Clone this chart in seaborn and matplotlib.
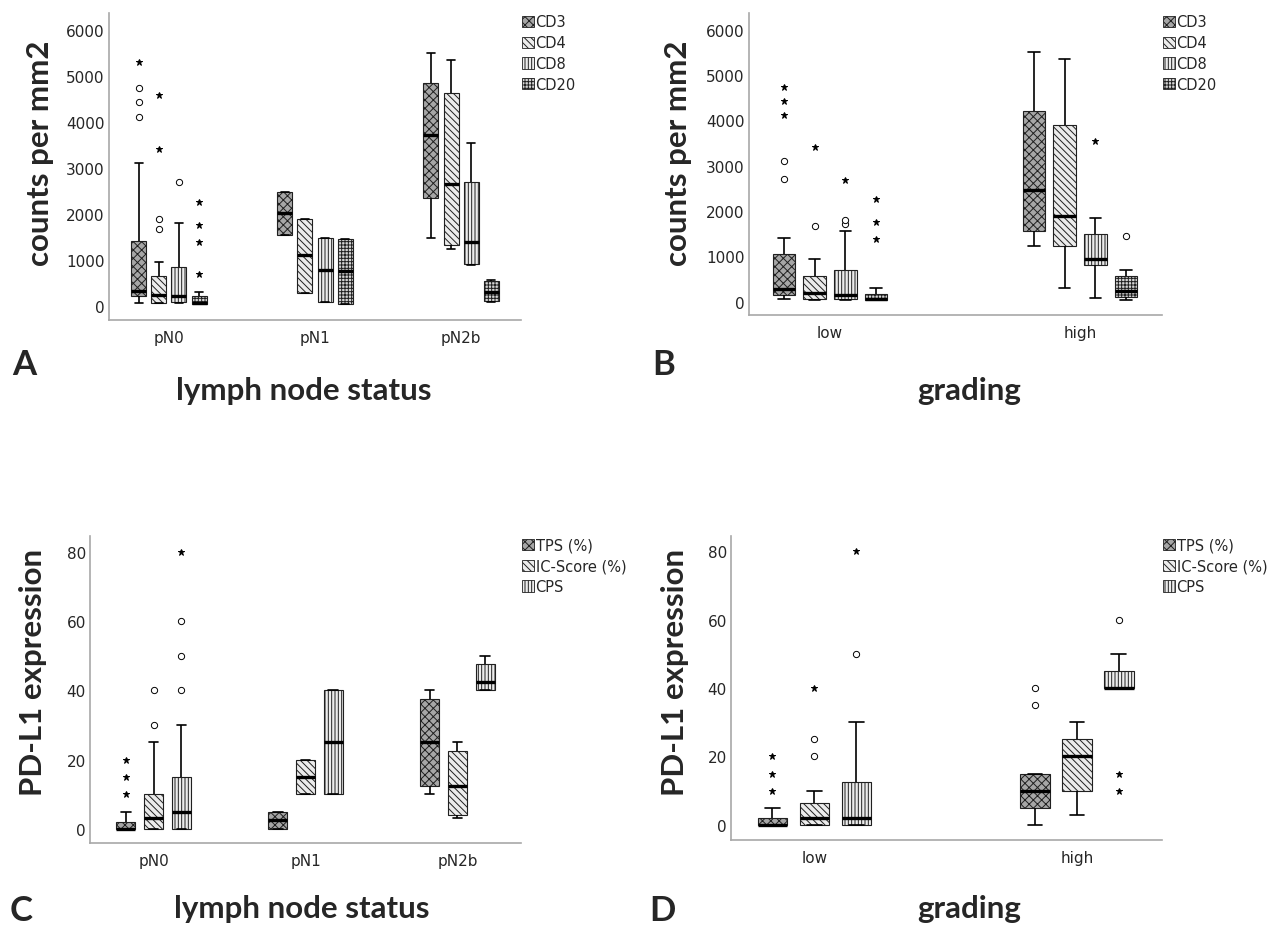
import matplotlib
matplotlib.use("Agg")
import matplotlib.pyplot as plt
from matplotlib.patches import Patch
import pandas as pd
import seaborn as sns

sns.set_style("white")
plt.rcParams["font.family"] = ["DejaVu Sans"]
plt.rcParams["hatch.linewidth"] = 0.7

nodes = ["pN0", "pN1", "pN2b"]
grades = ["low", "high"]
cells = ["CD3", "CD4", "CD8", "CD20"]
scores = ["TPS (%)", "IC-Score (%)", "CPS"]

# five-number summaries per group: lower whisker, Q1, median, Q3, upper whisker
# A: immune cells per mm2 by lymph node status
a_cd3 = [[72, 217, 325, 1403, 3116], [1547, 1547, 2025, 2480, 2480], [1475, 2350, 3717, 4845, 5503]]
a_cd4 = [[65, 72, 231, 651, 947], [289, 289, 1099, 1894, 1894], [1244, 1316, 2661, 4620, 5343]]
a_cd8 = [[65, 87, 224, 839, 1800], [80, 80, 788, 1489, 1489], [897, 904, 1388, 2690, 3543]]
a_cd20 = [[40, 45, 70, 215, 300], [43, 43, 752, 1453, 1453], [94, 101, 304, 535, 557]]
a_circles = [("pN0", "CD3", 4114), ("pN0", "CD3", 4425), ("pN0", "CD3", 4750),
             ("pN0", "CD4", 1677), ("pN0", "CD4", 1902), ("pN0", "CD8", 2690)]
a_stars = [("pN0", "CD3", 5307), ("pN0", "CD4", 3413), ("pN0", "CD4", 4591),
           ("pN0", "CD20", 701), ("pN0", "CD20", 1388), ("pN0", "CD20", 1757), ("pN0", "CD20", 2263)]

# B: immune cells per mm2 by grading
b_cd3 = [[59, 147, 279, 1044, 1404], [1221, 1551, 2471, 4199, 5500]]
b_cd4 = [[37, 59, 191, 559, 949], [294, 1235, 1890, 3904, 5353]]
b_cd8 = [[37, 59, 147, 706, 1551], [74, 816, 941, 1485, 1838]]
b_cd20 = [[29, 37, 59, 162, 294], [37, 110, 228, 559, 699]]
b_circles = [("low", "CD3", 2706), ("low", "CD3", 3110), ("low", "CD4", 1669),
             ("low", "CD8", 1713), ("low", "CD8", 1801), ("high", "CD20", 1441)]
b_stars = [("low", "CD3", 4110), ("low", "CD3", 4419), ("low", "CD3", 4743), ("low", "CD4", 3404),
           ("low", "CD8", 2684), ("low", "CD20", 1382), ("low", "CD20", 1750), ("low", "CD20", 2265),
           ("high", "CD8", 3544)]

# C: PD-L1 by lymph node status
c_tps = [[0, 0, 0, 2, 5], [0, 0, 2.5, 5, 5], [10, 12.5, 25, 37.5, 40]]
c_ic = [[0, 0, 3, 10, 25], [10, 10, 15, 20, 20], [3, 4, 12.5, 22.5, 25]]
c_cps = [[0, 0, 5, 15, 30], [10, 10, 25, 40, 40], [40, 40, 42.5, 47.5, 50]]
c_circles = [("pN0", "IC-Score (%)", 30), ("pN0", "IC-Score (%)", 40),
             ("pN0", "CPS", 40), ("pN0", "CPS", 50), ("pN0", "CPS", 60)]
c_stars = [("pN0", "TPS (%)", 10), ("pN0", "TPS (%)", 15), ("pN0", "TPS (%)", 20), ("pN0", "CPS", 80)]

# D: PD-L1 by grading
d_tps = [[0, 0, 0, 2, 5], [0, 5, 10, 15, 15]]
d_ic = [[0, 0, 2, 6.5, 10], [3, 10, 20, 25, 30]]
d_cps = [[0, 0, 2, 12.5, 30], [40, 40, 40, 45, 50]]
d_circles = [("low", "IC-Score (%)", 20), ("low", "IC-Score (%)", 25), ("low", "CPS", 50),
             ("high", "TPS (%)", 35), ("high", "TPS (%)", 40), ("high", "CPS", 60)]
d_stars = [("low", "TPS (%)", 10), ("low", "TPS (%)", 15), ("low", "TPS (%)", 20),
           ("low", "IC-Score (%)", 40), ("low", "CPS", 80), ("high", "CPS", 10), ("high", "CPS", 15)]

hatches = {"CD3": "xxxx", "CD4": "\\\\\\\\\\", "CD8": "|||||", "CD20": "+++++",
           "TPS (%)": "xxxx", "IC-Score (%)": "\\\\\\\\\\", "CPS": "|||||"}
faces = {"CD3": "#a6a6a6", "CD4": "#ececec", "CD8": "#ececec", "CD20": "#d4d4d4",
         "TPS (%)": "#a6a6a6", "IC-Score (%)": "#ececec", "CPS": "#ececec"}

W, H = 1277, 929
fig = plt.figure(figsize=(W / 100, H / 100), dpi=100)
label_font = ["Lato", "DejaVu Sans"]


def px_axes(x0, y0, x1, y1):
    return fig.add_axes([x0 / W, 1 - y1 / H, (x1 - x0) / W, (y1 - y0) / H])


def px_text(x, y, s, **kw):
    fig.text(x / W, 1 - y / H, s, **kw)


def draw_panel(ax, groups, hues, summaries, circles, stars, width, gap, xlim, ylim, yticks):
    rows = []
    for hue, summ in zip(hues, summaries):
        for g, five in zip(groups, summ):
            rows += [(g, hue, v) for v in five]
    df = pd.DataFrame(rows, columns=["group", "marker", "value"])

    for hue in hues:
        n0 = len(ax.patches)
        sns.boxplot(data=df[df["marker"] == hue], x="group", y="value", hue="marker",
                    order=groups, hue_order=hues, dodge=True, width=width, gap=gap,
                    whis=(0, 100), showfliers=False, palette=faces, linecolor="black",
                    linewidth=1.2, legend=False, ax=ax,
                    boxprops=dict(linewidth=0.8, edgecolor="#202020"),
                    medianprops=dict(linewidth=2.4, color="black"))
        for p in ax.patches[n0:]:
            p.set_hatch(hatches[hue])

    # outliers (circles) and extremes (stars), one rank at a time
    dodge = width * (len(hues) - 1) / len(hues)
    for pts, mk, ms, mfc in [(circles, "o", 4.5, "white"), (stars, "*", 4.5, "black")]:
        out = pd.DataFrame(pts, columns=["group", "marker", "value"])
        out["rank"] = out.groupby(["group", "marker"]).cumcount()
        for r in sorted(out["rank"].unique()):
            sns.pointplot(data=out[out["rank"] == r], x="group", y="value", hue="marker",
                          order=groups, hue_order=hues, dodge=dodge, linestyle="none",
                          markers=mk, errorbar=None, legend=False, ax=ax,
                          palette={h: "black" for h in hues}, markersize=ms,
                          markerfacecolor=mfc, markeredgewidth=0.7)

    ax.set_xlim(*xlim)
    ax.set_ylim(*ylim)
    ax.set_yticks(yticks)
    ax.set_xlabel("")
    ax.set_ylabel("")
    sns.despine(ax=ax)
    for s in ["left", "bottom"]:
        ax.spines[s].set_color("#a8a8a8")
        ax.spines[s].set_linewidth(1.2)
    ax.tick_params(length=0, labelsize=11, pad=3)
    ax.tick_params(axis="x", pad=7)

    handles = [Patch(facecolor=faces[h], edgecolor="#202020", hatch=hatches[h], lw=0.6, label=h)
               for h in hues]
    ax.legend(handles=handles, loc="upper left", bbox_to_anchor=(1.0, 1.0), frameon=False,
              fontsize=10.5, handlelength=0.8, handleheight=0.8, handletextpad=0.1,
              labelspacing=0.4, borderaxespad=0, borderpad=0.1)


ax_a = px_axes(109, 14, 521, 321)
draw_panel(ax_a, nodes, cells, [a_cd3, a_cd4, a_cd8, a_cd20], a_circles, a_stars,
           0.55, 0.25, (-0.41, 2.41), (-304, 6370), range(0, 6001, 1000))
ax_b = px_axes(749, 14, 1162, 316)
draw_panel(ax_b, grades, cells, [b_cd3, b_cd4, b_cd8, b_cd20], b_circles, b_stars,
           0.49, 0.26, (-0.324, 1.328), (-293, 6368), range(0, 6001, 1000))
ax_c = px_axes(90, 537, 521, 844)
draw_panel(ax_c, nodes, scores, [c_tps, c_ic, c_cps], c_circles, c_stars,
           0.55, 0.30, (-0.418, 2.418), (-4.1, 84.6), range(0, 81, 20))
ax_d = px_axes(731, 537, 1162, 841)
draw_panel(ax_d, grades, scores, [d_tps, d_ic, d_cps], d_circles, d_stars,
           0.48, 0.29, (-0.318, 1.324), (-4.4, 84.4), range(0, 81, 20))

# axis titles and panel letters
lab = dict(fontsize=22.5, fontweight="bold", family=label_font)
px_text(40, 153, "counts per mm2", rotation=90, ha="center", va="center", **lab)
px_text(678, 153, "counts per mm2", rotation=90, ha="center", va="center", **lab)
px_text(33, 672, "PD-L1 expression", rotation=90, ha="center", va="center", **lab)
px_text(675, 672, "PD-L1 expression", rotation=90, ha="center", va="center", **lab)
px_text(304, 400, "lymph node status", ha="center", va="baseline", **lab)
px_text(969, 400, "grading", ha="center", va="baseline", **lab)
px_text(302, 918, "lymph node status", ha="center", va="baseline", **lab)
px_text(969, 918, "grading", ha="center", va="baseline", **lab)

let = dict(fontsize=25, fontweight="bold", family=label_font)
px_text(24, 375, "A", ha="center", va="baseline", **let)
px_text(664, 375, "B", ha="center", va="baseline", **let)
px_text(21, 921, "C", ha="center", va="baseline", **let)
px_text(662, 921, "D", ha="center", va="baseline", **let)

fig.savefig("out.png", dpi=100, facecolor="white")
